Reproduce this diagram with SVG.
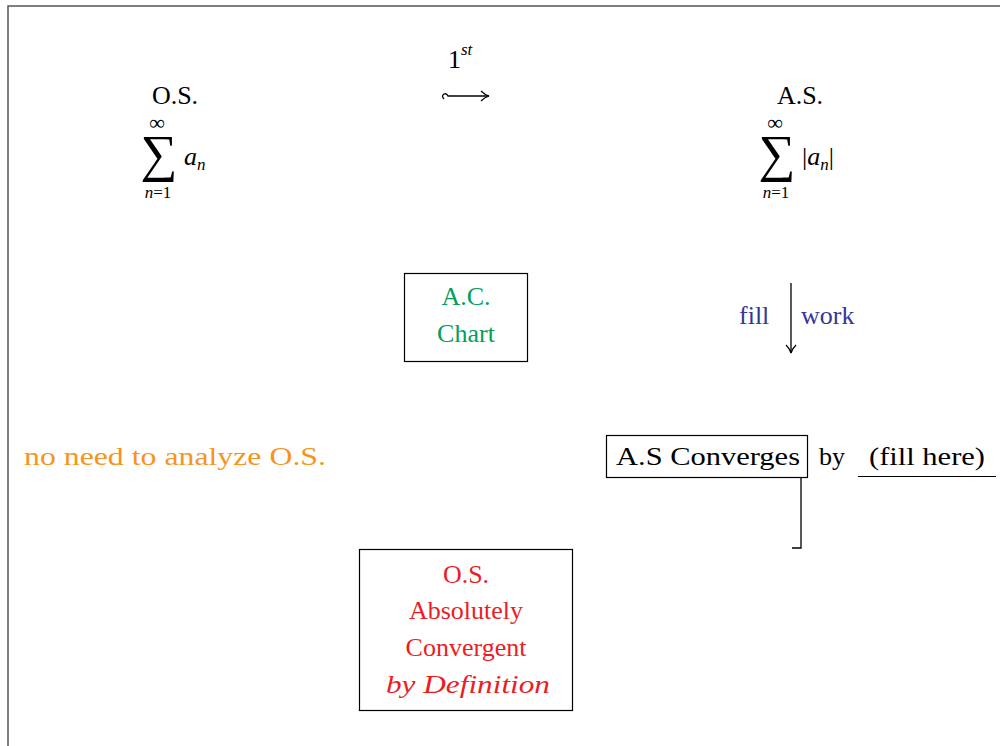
<svg xmlns="http://www.w3.org/2000/svg" width="1000" height="746" viewBox="0 0 1000 746" font-family="'Liberation Serif', 'Times New Roman', serif">
<style>
text{font-family:'Liberation Serif','Times New Roman',serif;font-size:26px;fill:#000}
.it{font-style:italic}
.up{font-style:normal}
.sm{font-size:17px}
.big{font-size:52px}
.inf{font-size:22px}
.box{fill:#fff;stroke:#000;stroke-width:1.2}
.ln{fill:none;stroke:#000;stroke-width:1.3}
.green{fill:#00a05a}
.blue{fill:#35359a}
.orange{fill:#f7941d}
.red{fill:#ed1c24}
</style>
<defs>
<marker id="arr" viewBox="0 0 12 12" refX="10" refY="6" markerWidth="12" markerHeight="12" markerUnits="userSpaceOnUse" orient="auto">
<path d="M2,1 Q6,5 10,6 Q6,7 2,11" fill="none" stroke="#000" stroke-width="1.2"/>
</marker>
</defs>
<rect x="0" y="0" width="1000" height="746" fill="#fff"/>
<path d="M8,746 V6 H1000" fill="none" stroke="#555" stroke-width="1.5"/>

<g id="os">
<text x="175" y="104" text-anchor="middle">O.S.</text>
<text text-anchor="middle"><tspan x="157" y="130" class="inf">∞</tspan><tspan x="159" y="171" class="big">∑</tspan><tspan x="158" y="198" class="sm it">n<tspan class="up">=1</tspan></tspan></text>
<text x="184" y="165" class="it">a<tspan class="sm" dy="5">n</tspan></text>
</g>

<g id="as">
<text x="800" y="104" text-anchor="middle">A.S.</text>
<text text-anchor="middle"><tspan x="775" y="130" class="inf">∞</tspan><tspan x="777" y="171" class="big">∑</tspan><tspan x="776" y="198" class="sm it">n<tspan class="up">=1</tspan></tspan></text>
<text x="802" y="165">|<tspan class="it">a</tspan><tspan class="sm it" dy="5">n</tspan><tspan dy="-5">|</tspan></text>
</g>

<g id="first">
<text x="448" y="68">1<tspan class="sm it" dy="-13">st</tspan></text>
</g>

<g id="ac">
<rect class="box" x="404.5" y="273.5" width="123" height="88"/>
<text x="466" y="305" text-anchor="middle" class="green">A.C.</text>
<text x="466" y="342" text-anchor="middle" class="green">Chart</text>
</g>

<g id="fillwork">
<text x="739" y="324" class="blue">fill</text>
<text x="801" y="324" class="blue">work</text>
</g>

<g id="noneed">
<text x="24" y="465" class="orange" textLength="302" lengthAdjust="spacingAndGlyphs">no need to analyze O.S.</text>
</g>

<g id="asconv">
<rect class="box" x="606.5" y="435.5" width="201" height="42"/>
<text x="616" y="465" textLength="184" lengthAdjust="spacingAndGlyphs">A.S Converges</text>
<text x="819" y="465">by</text>
<text x="869" y="465" textLength="116" lengthAdjust="spacingAndGlyphs">(fill here)</text>
<line x1="858" y1="476.5" x2="996" y2="476.5" stroke="#000" stroke-width="1.2"/>
</g>

<g id="osabs">
<rect class="box" x="359.5" y="549.5" width="213" height="161"/>
<text x="466" y="583" text-anchor="middle" class="red">O.S.</text>
<text x="466" y="619" text-anchor="middle" class="red">Absolutely</text>
<text x="466" y="656" text-anchor="middle" class="red">Convergent</text>
<text x="468" y="693" text-anchor="middle" class="red it" textLength="164" lengthAdjust="spacingAndGlyphs">by Definition</text>
</g>

<g id="connectors">
<path class="ln" d="M444,99 Q441,96 444,94 Q447,93 448,96 L489,96" marker-end="url(#arr)"/>
<line class="ln" x1="791" y1="283" x2="791" y2="353" marker-end="url(#arr)"/>
<path class="ln" d="M801,478 V548 H792" stroke-width="1.6"/>
</g>
</svg>
